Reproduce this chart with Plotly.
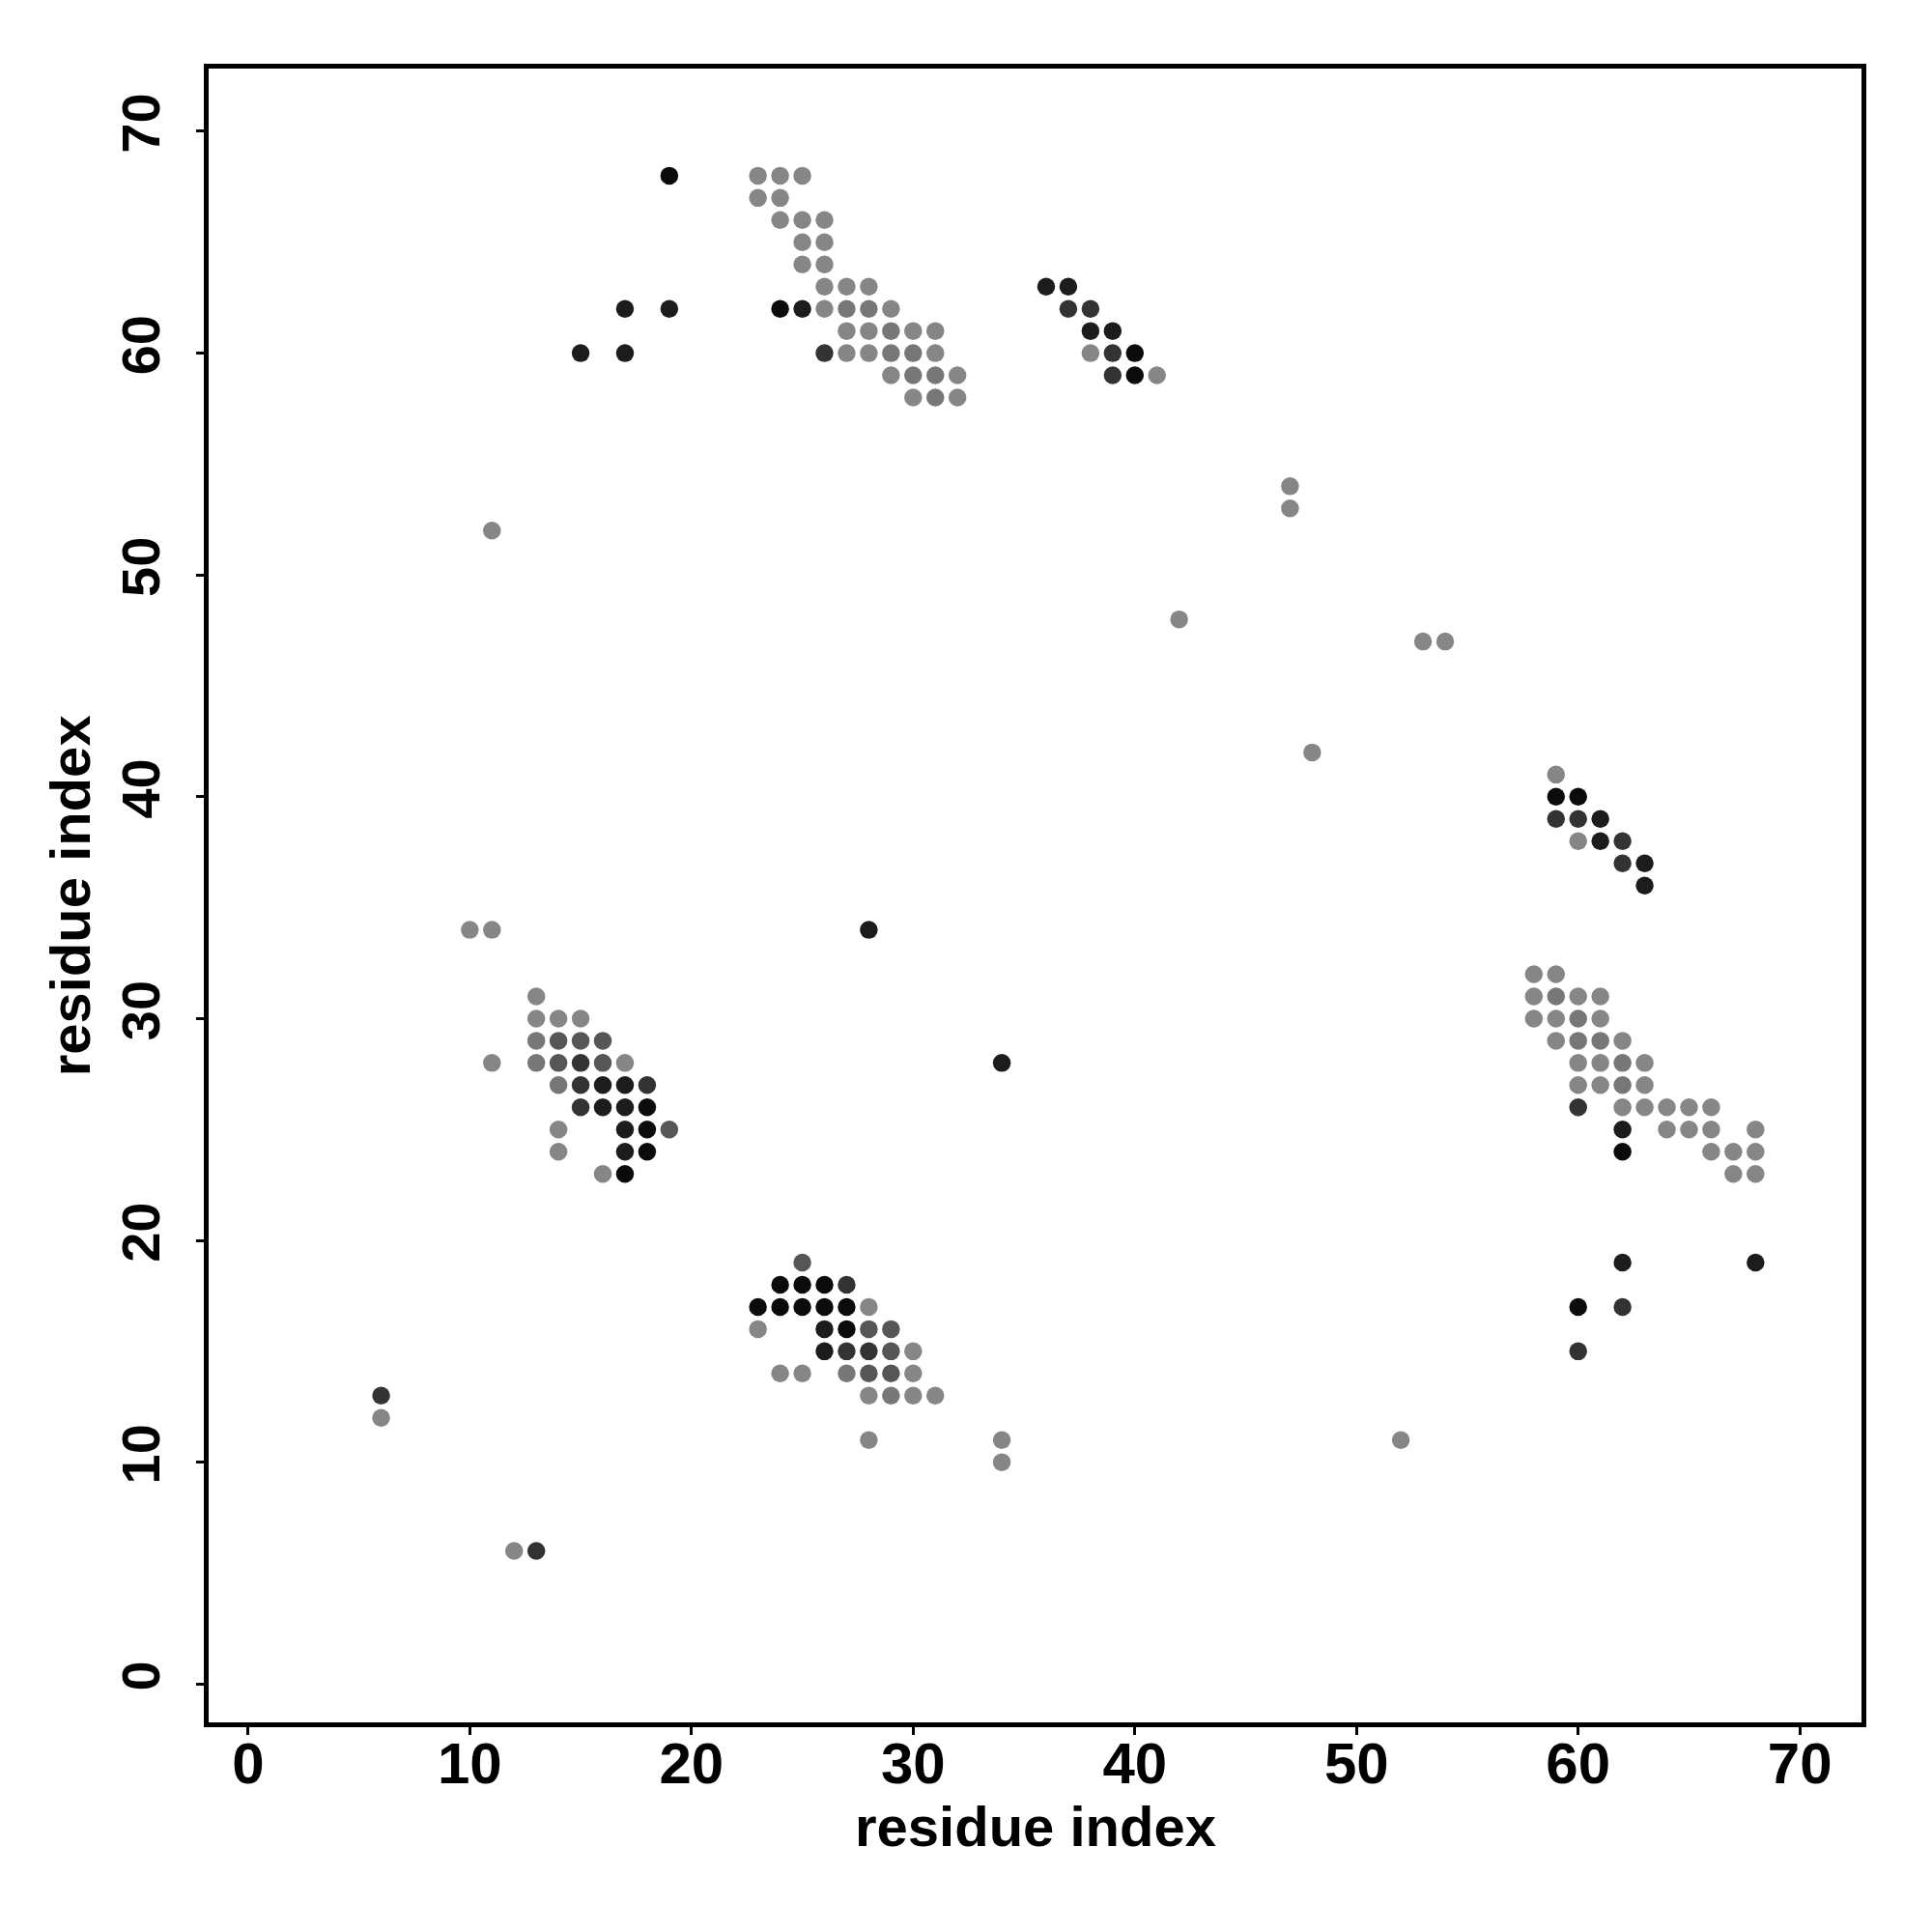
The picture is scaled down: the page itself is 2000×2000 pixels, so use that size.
import plotly.graph_objects as go

# contact map points: residue i (x), residue j (y), shade level
res_i = [
    # top cluster
    23, 24, 25, 23, 24, 24, 25, 26, 25, 26, 25, 26, 26, 27, 28,
    24, 25, 26, 27, 28, 29, 27, 28, 29, 30, 31,
    26, 27, 28, 29, 30, 31, 29, 30, 31, 32, 30, 31, 32,
    19, 17, 19, 15, 17,
    # cluster 2
    36, 37, 37, 38, 38, 39, 38, 39, 40, 39, 40, 41,
    # isolated middle
    11, 47, 47, 42, 53, 54, 48,
    # cluster 6
    59, 59, 60, 59, 60, 61, 60, 61, 62, 62, 63, 63,
    10, 11, 28, 34, 11,
    # cluster 3
    13, 13, 14, 15, 13, 14, 15, 16, 13, 14, 15, 16, 17,
    14, 15, 16, 17, 18, 15, 16, 17, 18, 14, 17, 18, 19,
    14, 17, 18, 16, 17,
    # cluster 5
    58, 59, 58, 59, 60, 61, 58, 59, 60, 61, 59, 60, 61, 62,
    60, 61, 62, 63, 60, 61, 62, 63, 60, 62, 63, 64, 65, 66,
    62, 64, 65, 66, 68, 62, 66, 67, 68, 67, 68,
    # cluster 4
    25, 24, 25, 26, 27, 23, 24, 25, 26, 27, 28,
    23, 26, 27, 28, 29, 26, 27, 28, 29, 30,
    24, 25, 27, 28, 29, 30, 28, 29, 30, 31,
    # lower isolated
    62, 68, 60, 62, 60,
    6, 6, 28, 34, 34, 52, 12, 13,
]
res_j = [
    68, 68, 68, 67, 67, 66, 66, 66, 65, 65, 64, 64, 63, 63, 63,
    62, 62, 62, 62, 62, 62, 61, 61, 61, 61, 61,
    60, 60, 60, 60, 60, 60, 59, 59, 59, 59, 58, 58, 58,
    68, 62, 62, 60, 60,
    63, 63, 62, 62, 61, 61, 60, 60, 60, 59, 59, 59,
    52, 54, 53, 48, 47, 47, 42,
    41, 40, 40, 39, 39, 39, 38, 38, 38, 37, 37, 36,
    34, 34, 34, 28, 28,
    31, 30, 30, 30, 29, 29, 29, 29, 28, 28, 28, 28, 28,
    27, 27, 27, 27, 27, 26, 26, 26, 26, 25, 25, 25, 25,
    24, 24, 24, 23, 23,
    32, 32, 31, 31, 31, 31, 30, 30, 30, 30, 29, 29, 29, 29,
    28, 28, 28, 28, 27, 27, 27, 27, 26, 26, 26, 26, 26, 26,
    25, 25, 25, 25, 25, 24, 24, 24, 24, 23, 23,
    19, 18, 18, 18, 18, 17, 17, 17, 17, 17, 17,
    16, 16, 16, 16, 16, 15, 15, 15, 15, 15,
    14, 14, 14, 14, 14, 14, 13, 13, 13, 13,
    19, 19, 17, 17, 15,
    13, 12, 11, 11, 10, 11, 6, 6,
]
level = [
    "g", "g", "g", "g", "g", "g", "g", "g", "g", "g", "g", "g", "g", "g", "g",
    "b", "k", "g", "g2", "g2", "g", "g", "g", "g2", "g", "g",
    "d", "g", "g", "g2", "g2", "g", "g", "g2", "g2", "g", "g", "g2", "g",
    "b", "k", "k", "k", "k",
    "k", "k", "d", "d", "k", "k", "g", "d", "b", "d", "b", "g",
    "g", "g", "g", "g", "g", "g", "g",
    "g", "b", "b", "d", "d", "k", "g", "k", "d", "d", "k", "k",
    "g", "g", "k", "k", "g",
    "g", "g", "g", "g", "g2", "m", "m", "m", "g2", "m", "d", "m", "g",
    "g2", "d", "k", "k", "d", "d", "k", "k", "b", "g", "k", "b", "m",
    "g", "k", "b", "g", "b",
    "g", "g", "g", "g2", "g", "g", "g", "g", "g2", "g", "g", "g2", "g2", "g",
    "g", "g", "g2", "g", "g", "g", "g2", "g", "d", "g", "g", "g", "g", "g",
    "k", "g", "g", "g", "g", "b", "g", "g", "g", "g", "g",
    "m", "b", "b", "b", "d", "b", "b", "b", "b", "b", "g",
    "g", "k", "b", "m", "m", "k", "d", "d", "m", "g",
    "g", "g", "g2", "m", "m", "g", "g", "g2", "g", "g",
    "k", "k", "b", "d", "d",
    "d", "g", "g", "g", "g", "g", "g", "d",
]
tick_vals = [0, 10, 20, 30, 40, 50, 60, 70]

shade_colors = {"g": "#868686", "g2": "#777777", "m": "#565656",
                "d": "#333333", "k": "#1c1c1c", "b": "#0b0b0b"}
colors = [shade_colors[s] for s in level]

fig = go.Figure()
fig.add_trace(go.Scatter(
    x=res_i, y=res_j, mode="markers",
    marker=dict(size=18.5, color=colors, line=dict(width=0)),
    showlegend=False,
))

axis_common = dict(
    showline=True, linecolor="black", linewidth=4.5, mirror=True,
    ticks="outside", ticklen=8, tickwidth=3, tickcolor="black",
    showgrid=False, zeroline=False,
    tickvals=tick_vals,
)
fig.update_xaxes(range=[-1.78, 72.78], ticklabelstandoff=-22,
                 tickfont=dict(family="Liberation Sans Narrow, Liberation Sans, Arial",
                               size=60, color="black", weight="bold"),
                 **axis_common)
fig.update_yaxes(range=[-1.73, 72.83], tickangle=-90, ticklabelstandoff=16,
                 tickfont=dict(family="Liberation Sans, Arial", size=56,
                               color="black", weight="bold"),
                 **axis_common)

fig.add_annotation(text="<b>residue index</b>", xref="paper", yref="paper",
                   x=0.5, y=-0.063, showarrow=False, xanchor="center", yanchor="middle",
                   font=dict(family="Liberation Sans, Arial", size=58, color="black"))
fig.add_annotation(text="<b>residue index</b>", xref="paper", yref="paper",
                   x=-0.084, y=0.5, showarrow=False, xanchor="center", yanchor="middle",
                   textangle=-90,
                   font=dict(family="Liberation Sans, Arial", size=58, color="black"))

fig.update_layout(
    width=2000, height=2000,
    margin=dict(l=208, r=81, t=63, b=225),
    paper_bgcolor="white", plot_bgcolor="white",
)
fig.write_html("out.html")
